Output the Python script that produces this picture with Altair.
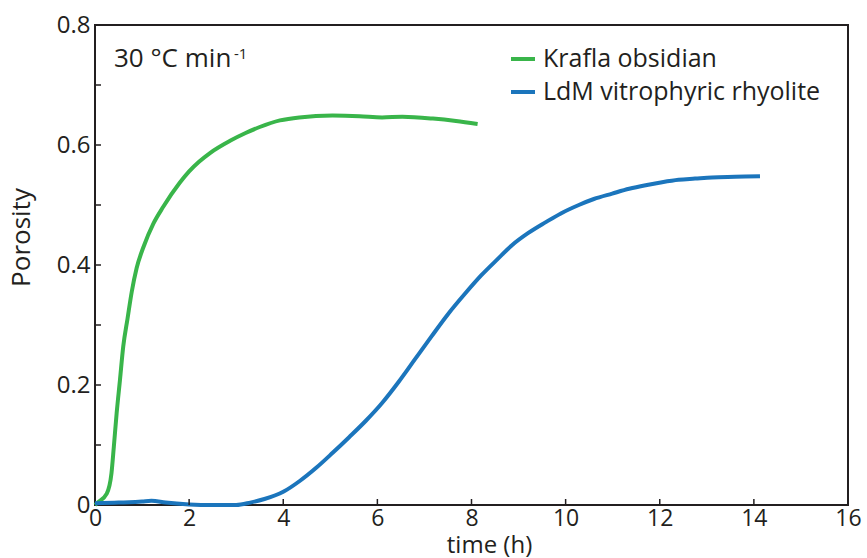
import altair as alt
import pandas as pd

# ---- data ----
krafla_t = [0, 0.04, 0.25, 0.35, 0.40, 0.46, 0.53, 0.60, 0.69, 0.78, 0.885, 1.03,
            1.24, 1.45, 1.80, 2.0, 2.21, 2.45, 2.87, 3.2, 3.5, 3.93, 4.34,
            5.05, 5.62, 6.1, 6.53, 7.18, 7.67, 8.13]
krafla_p = [0, 0.003, 0.019, 0.053, 0.097, 0.153, 0.208, 0.264, 0.31, 0.355, 0.395,
            0.43, 0.469, 0.497, 0.537, 0.556, 0.572, 0.587, 0.607, 0.62,
            0.63, 0.641, 0.646, 0.649, 0.648, 0.646, 0.647, 0.644, 0.64, 0.635]

ldm_t = [0, 0.5, 1.0, 1.2, 1.5, 2.0, 2.5, 3.0, 3.3, 3.6, 4.0, 4.35, 4.7, 5.05, 5.4,
         5.75, 6.1, 6.45, 6.8, 7.15, 7.5, 7.86, 8.21, 8.57, 8.86, 9.2, 9.57, 9.9,
         10.28, 10.6, 10.99, 11.35, 11.7, 12.05, 12.4, 12.75, 13.11, 13.6, 14.13]
ldm_p = [0.003, 0.004, 0.006, 0.007, 0.004, 0.001, 0.0, 0.0, 0.004, 0.01, 0.022, 0.04,
         0.062, 0.087, 0.113, 0.14, 0.17, 0.205, 0.243, 0.281, 0.318, 0.352, 0.383,
         0.411, 0.433, 0.453, 0.471, 0.486, 0.50, 0.51, 0.519, 0.527, 0.533, 0.538,
         0.542, 0.544, 0.546, 0.547, 0.548]

series_names = ["Krafla obsidian", "LdM vitrophyric rhyolite"]
series_colors = ["#39b54a", "#1b75bc"]

x_label_values = [0, 2, 4, 6, 8, 10, 12, 14, 16]
y_label_values = [0, 0.2, 0.4, 0.6, 0.8]
x_tick_values = [2, 4, 6, 8, 10, 12, 14]
y_tick_values = [0.1, 0.2, 0.3, 0.4, 0.5, 0.6, 0.7]

annotation_main = ["30 \u00b0C min"]
annotation_sup = ["-1"]

FONT = "Open Sans"
INK = "#231f20"

df = pd.concat([
    pd.DataFrame({"time": krafla_t, "porosity": krafla_p, "series": series_names[0], "order": range(len(krafla_t))}),
    pd.DataFrame({"time": ldm_t, "porosity": ldm_p, "series": series_names[1], "order": range(len(ldm_t))}),
])

xscale = alt.Scale(domain=[0, 16], nice=False, zero=False)
yscale = alt.Scale(domain=[0, 0.8], nice=False)

lines = alt.Chart(df).mark_line(strokeWidth=4, interpolate="monotone").encode(
    x=alt.X("time:Q", scale=xscale,
            axis=alt.Axis(values=x_label_values, title="time (h)", domain=False, ticks=False,
                          tickSize=0, grid=False, labelPadding=2, labelFontSize=23,
                          labelFlush=False, labelOverlap=False,
                          labelFont=FONT, labelColor=INK, titleFont=FONT, titleFontSize=24,
                          titleFontWeight="normal", titleColor=INK, titleX=394, titleY=28,
                          titleBaseline="top", titleAlign="center", format="d")),
    y=alt.Y("porosity:Q", scale=yscale,
            axis=alt.Axis(values=y_label_values, title="Porosity", domain=False, ticks=False,
                          tickSize=0, grid=False, labelPadding=5, labelFontSize=24,
                          labelFlush=False, labelOverlap=False,
                          labelFont=FONT, labelColor=INK,
                          labelExpr="datum.value == 0 ? '0' : format(datum.value, '.1f')",
                          titleFont=FONT, titleFontSize=26, titleFontWeight="normal",
                          titleColor=INK, titleX=-66, titleY=212, titleAngle=-90,
                          titleBaseline="alphabetic", titleAlign="center")),
    color=alt.Color("series:N",
                    scale=alt.Scale(domain=series_names, range=series_colors),
                    legend=alt.Legend(title=None, orient="none", legendX=414, legendY=20,
                                      symbolType="stroke", symbolStrokeWidth=4, symbolSize=576,
                                      labelFont=FONT, labelFontSize=25, labelColor=INK,
                                      labelLimit=0, labelOffset=6, rowPadding=6,
                                      padding=0, offset=0)),
    order="order:Q",
)

ytick_df = pd.DataFrame({"v": y_tick_values})
yticks = alt.Chart(ytick_df).mark_rule(color=INK, strokeWidth=1.5).encode(
    y=alt.Y("v:Q", scale=yscale),
    x=alt.value(0), x2=alt.value(6),
)
xtick_df = pd.DataFrame({"v": x_tick_values})
xticks = alt.Chart(xtick_df).mark_rule(color=INK, strokeWidth=1.5).encode(
    x=alt.X("v:Q", scale=xscale),
    y=alt.value(480), y2=alt.value(474),
)

ann = alt.Chart(pd.DataFrame({"t": annotation_main})).mark_text(
    font=FONT, fontSize=26, color=INK, align="left", baseline="alphabetic"
).encode(text="t:N", x=alt.value(19), y=alt.value(42))

sup = alt.Chart(pd.DataFrame({"t": annotation_sup})).mark_text(
    font=FONT, fontSize=15, color=INK, align="left", baseline="alphabetic"
).encode(text="t:N", x=alt.value(139), y=alt.value(34))

chart = alt.layer(lines, yticks, xticks, ann, sup).properties(
    width=753, height=480,
    autosize=alt.AutoSizeParams(type="none"),
    padding={"left": 95, "top": 25, "right": 19, "bottom": 53},
    background="white",
).configure_view(stroke=INK, strokeWidth=2)

chart.save("out.html", embed_options={"renderer": "svg", "actions": False})
